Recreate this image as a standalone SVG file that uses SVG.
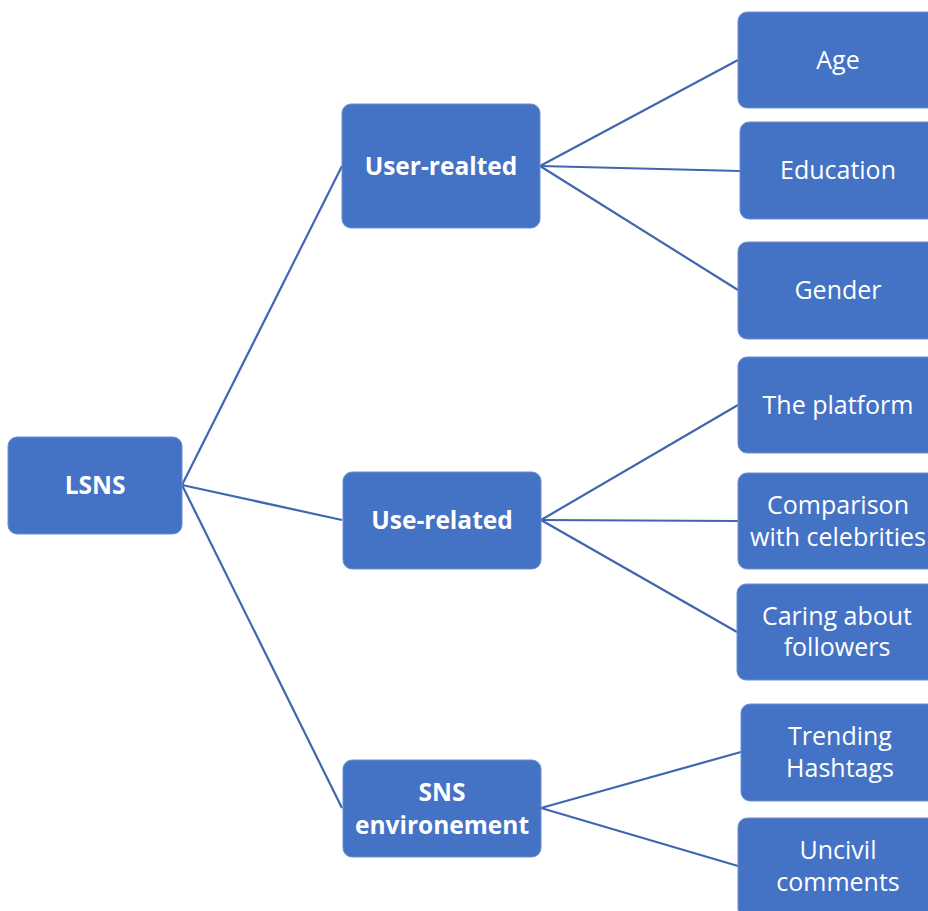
<svg xmlns="http://www.w3.org/2000/svg" width="928" height="911" viewBox="0 0 928 911">
  <style>
    .box { fill: #4472C4; stroke: #6A8FD3; stroke-width: 1; }
    .lbl { fill: #FFFFFF; font-family: "Open Sans", "Noto Sans", "Liberation Sans", sans-serif; font-size: 25px; text-anchor: middle; }
    .b { font-weight: bold; font-size: 24.5px; }
    .edge { stroke: #3F66B0; stroke-width: 2.2; fill: none; }
  </style>
  <rect width="928" height="911" fill="#FFFFFF"/>

  <g id="connectors">
    <line class="edge" x1="182" y1="485" x2="342" y2="166"/>
    <line class="edge" x1="182" y1="485" x2="342" y2="520"/>
    <line class="edge" x1="182" y1="485" x2="342" y2="808"/>
    <line class="edge" x1="540" y1="166" x2="738" y2="60"/>
    <line class="edge" x1="540" y1="166" x2="740" y2="171"/>
    <line class="edge" x1="540" y1="166" x2="738" y2="290"/>
    <line class="edge" x1="541" y1="520" x2="738" y2="405"/>
    <line class="edge" x1="541" y1="520" x2="738" y2="521"/>
    <line class="edge" x1="541" y1="520" x2="737" y2="632"/>
    <line class="edge" x1="541" y1="808" x2="741" y2="752"/>
    <line class="edge" x1="541" y1="808" x2="738" y2="866"/>
  </g>

  <g id="lsns">
    <rect class="box" x="8" y="437" width="174" height="97" rx="9"/>
    <text class="lbl b" x="95" y="494">LSNS</text>
  </g>

  <g id="user-realted">
    <rect class="box" x="342" y="104" width="198" height="124" rx="9"/>
    <text class="lbl b" x="441" y="175">User-realted</text>
  </g>
  <g id="use-related">
    <rect class="box" x="343" y="472" width="198" height="97" rx="9"/>
    <text class="lbl b" x="442" y="529">Use-related</text>
  </g>
  <g id="sns-environement">
    <rect class="box" x="343" y="760" width="198" height="97" rx="9"/>
    <text class="lbl b" x="442" y="801">SNS</text>
    <text class="lbl b" x="442" y="834">environement</text>
  </g>

  <g id="age">
    <rect class="box" x="738" y="12" width="200" height="96" rx="9"/>
    <text class="lbl" x="838" y="69">Age</text>
  </g>
  <g id="education">
    <rect class="box" x="740" y="122" width="200" height="97" rx="9"/>
    <text class="lbl" x="838" y="179">Education</text>
  </g>
  <g id="gender">
    <rect class="box" x="738" y="242" width="200" height="97" rx="9"/>
    <text class="lbl" x="838" y="299">Gender</text>
  </g>

  <g id="the-platform">
    <rect class="box" x="738" y="357" width="200" height="96" rx="9"/>
    <text class="lbl" x="838" y="414">The platform</text>
  </g>
  <g id="comparison">
    <rect class="box" x="738" y="473" width="200" height="96" rx="9"/>
    <text class="lbl" x="838" y="514">Comparison</text>
    <text class="lbl" x="838" y="546">with celebrities</text>
  </g>
  <g id="caring">
    <rect class="box" x="737" y="584" width="200" height="96" rx="9"/>
    <text class="lbl" x="837" y="625">Caring about</text>
    <text class="lbl" x="837" y="656">followers</text>
  </g>

  <g id="trending">
    <rect class="box" x="741" y="704" width="200" height="97" rx="9"/>
    <text class="lbl" x="840" y="745">Trending</text>
    <text class="lbl" x="840" y="777">Hashtags</text>
  </g>
  <g id="uncivil">
    <rect class="box" x="738" y="818" width="200" height="100" rx="9"/>
    <text class="lbl" x="838" y="859">Uncivil</text>
    <text class="lbl" x="838" y="891">comments</text>
  </g>
</svg>
